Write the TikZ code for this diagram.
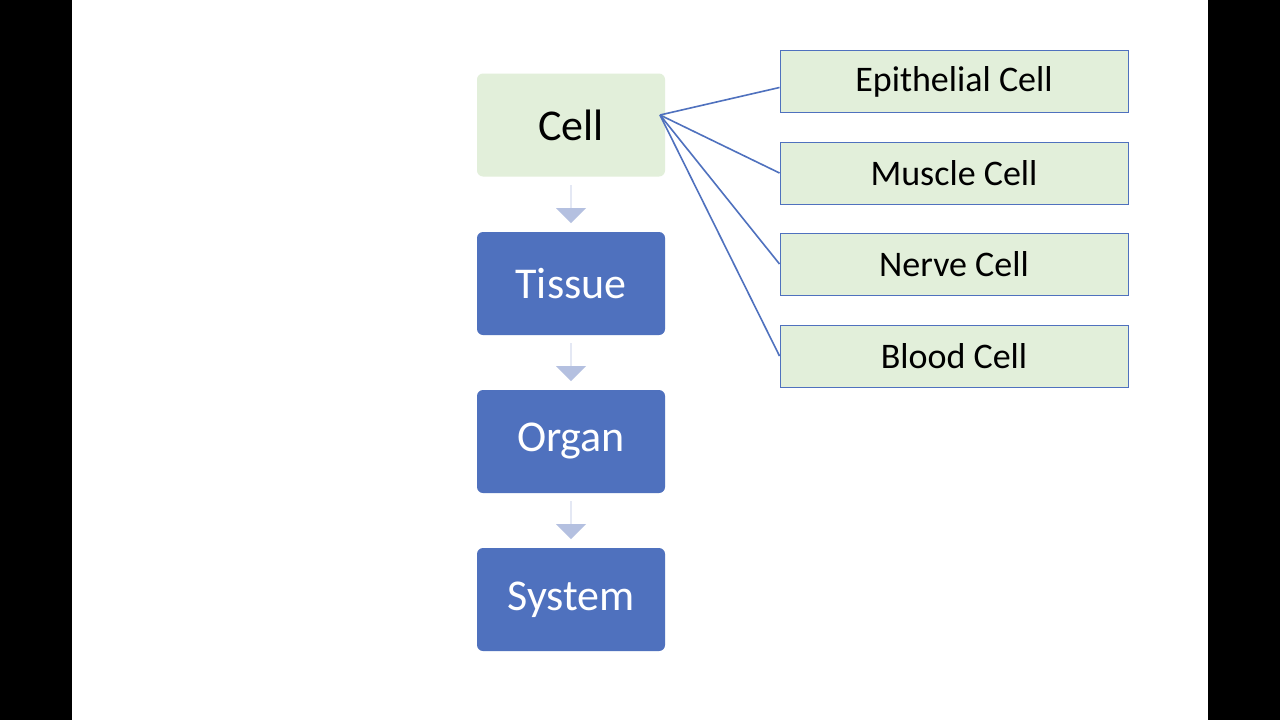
\documentclass[tikz,border=0pt]{standalone}
\usepackage{fontspec}
\setmainfont{Carlito}
\usetikzlibrary{shapes.arrows}
\definecolor{lg}{HTML}{E2EFDA}
\definecolor{bl}{HTML}{4F71BE}
\definecolor{ar}{HTML}{B4C0E0}
\begin{document}
\begin{tikzpicture}[x=1pt,y=-1pt,
 main/.style={rounded corners=6pt,minimum width=188pt,minimum height=103pt,inner sep=0pt,font=\fontsize{44}{50}\selectfont},
 side/.style={draw=bl,line width=1pt,fill=lg,minimum width=348pt,minimum height=62pt,inner sep=0pt,font=\fontsize{36}{40}\selectfont},
 link/.style={draw=bl,line width=1.6pt},
 dn/.style={fill=ar,single arrow,shape border rotate=270,single arrow head extend=9pt,minimum width=30pt,minimum height=38pt,inner sep=0pt}]
\fill[black] (0,0) rectangle (1280,720);
\fill[white] (72,0) rectangle (1208,720);
\node[main,fill=lg] (cell) at (571,125) {Cell};
\node[main,fill=bl,text=white] (tis) at (571,283.5) {Tissue};
\node[main,fill=bl,text=white] (org) at (571,441.5) {Organ};
\node[main,fill=bl,text=white] (sys) at (571,599.5) {System};
\node[dn] (a1) at (571,204) {};
\node[dn] (a2) at (571,362) {};
\node[dn] (a3) at (571,520) {};
\node[side] (e) at (954,81.5) {Epithelial Cell};
\node[side] (m) at (954,173) {Muscle Cell};
\node[side] (n) at (954,264) {Nerve Cell};
\node[side] (b) at (954,356) {Blood Cell};
\coordinate (o) at (660,115);
\draw[link] (o) -- ([yshift=-6pt]e.west);
\draw[link] (o) -- (m.west);
\draw[link] (o) -- (n.west);
\draw[link] (o) -- (b.west);
\end{tikzpicture}
\end{document}
